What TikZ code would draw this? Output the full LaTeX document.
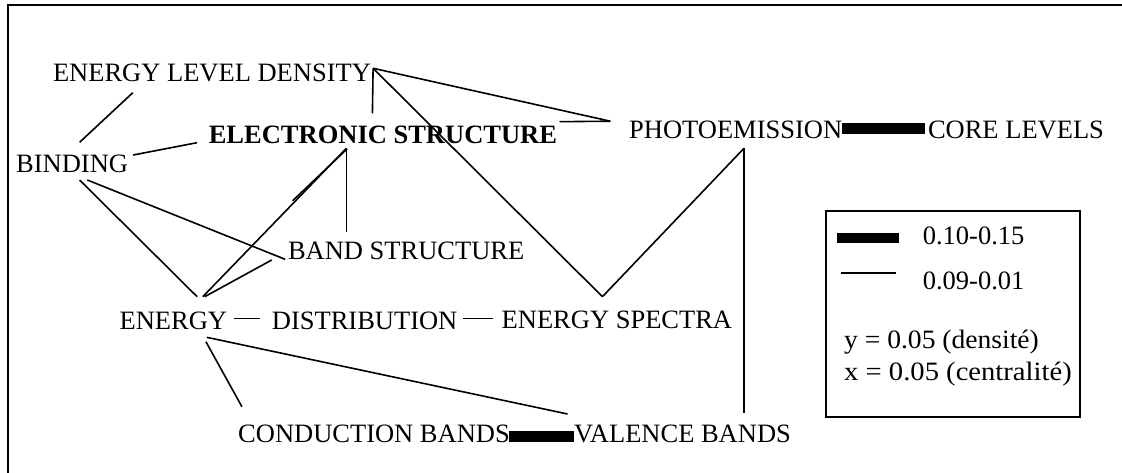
\documentclass[tikz,border=0pt]{standalone}
\usepackage{fontspec}
\setmainfont{Liberation Serif}
\begin{document}
\begin{tikzpicture}[x=1pt,y=-1pt,
  lbl/.style={anchor=base west,inner sep=0pt,font=\fontsize{26.5}{30}\selectfont},
  thin/.style={line width=1.6pt},
  thick/.style={line width=11pt},
  frame/.style={line width=2pt}]
\useasboundingbox (0,0) rectangle (1122,473);
\draw[frame] (7.7,473) -- (7.7,5) -- (1122,5);
% nodes
\node[lbl] (eld) at (52.8,81.7) {ENERGY LEVEL DENSITY};
\node[lbl,font=\fontsize{26.5}{30}\selectfont\bfseries] (es) at (208.6,143.3) {ELECTRONIC STRUCTURE};
\node[lbl] (bind) at (16,172.7) {BINDING};
\node[lbl] (band) at (287.8,260) {BAND STRUCTURE};
\node[lbl] (en) at (119.4,329.5) {ENERGY};
\node[lbl] (dist) at (271.7,329) {DISTRIBUTION};
\node[lbl] (spec) at (501.5,328) {ENERGY SPECTRA};
\node[lbl] (cond) at (238,442.3) {CONDUCTION BANDS};
\node[lbl] (val) at (574,442.5) {VALENCE BANDS};
\node[lbl] (pe) at (629,138.3) {PHOTOEMISSION};
\node[lbl] (core) at (927.8,138.3) {CORE LEVELS};
% attachment points
\coordinate (eld-apex) at (373.1,68.3);
\coordinate (eld-bl) at (132.8,92.7);
\coordinate (es-t) at (372.4,113.3);
\coordinate (es-r) at (559.5,121.7);
\coordinate (es-l) at (197,142.7);
\coordinate (es-b) at (346.4,148.3);
\coordinate (es-b2) at (347.2,148.8);
\coordinate (es-x) at (292.6,200.8);
\coordinate (pe-l) at (610.3,121.2);
\coordinate (pe-b) at (744,148.3);
\coordinate (pe-r) at (842,128.8);
\coordinate (core-l) at (925.4,128.8);
\coordinate (bind-t) at (79.6,142.3);
\coordinate (bind-r) at (133.2,155);
\coordinate (bind-b1) at (79.6,180);
\coordinate (bind-b2) at (87.3,180);
\coordinate (band-l) at (285.1,259.3);
\coordinate (band-bl) at (271.7,260);
\coordinate (band-t) at (346.4,231.7);
\coordinate (en-t1) at (197.1,296.7);
\coordinate (en-t2) at (202.8,296.7);
\coordinate (en-t3) at (204.7,296.7);
\coordinate (en-r) at (234,318.5);
\coordinate (en-b1) at (205.9,341.7);
\coordinate (en-b2) at (206.7,337.3);
\coordinate (dist-l) at (260,318.5);
\coordinate (dist-r) at (463.3,318.5);
\coordinate (spec-l) at (493.3,318.5);
\coordinate (spec-t) at (602.4,296.7);
\coordinate (cond-t) at (241.9,406.7);
\coordinate (cond-r) at (509,436);
\coordinate (val-l) at (574,436);
\coordinate (val-t1) at (567.5,414);
\coordinate (val-t2) at (744,413.3);
% connectors
\draw[thin] (eld-bl) -- (bind-t);
\draw[thin] (eld-apex) -- (es-t);
\draw[thin] (eld-apex) -- (pe-l);
\draw[thin] (es-r) -- (pe-l);
\draw[thin] (eld-apex) -- (spec-t);
\draw[thin] (bind-r) -- (es-l);
\draw[thin] (es-b) -- (band-t);
\draw[thin] (es-b) -- (en-t2);
\draw[thin] (es-b2) -- (es-x);
\draw[thin] (bind-b2) -- (band-l);
\draw[thin] (bind-b1) -- (en-t1);
\draw[thin] (band-bl) -- (en-t3);
\draw[thin] (en-r) -- (dist-l);
\draw[thin] (dist-r) -- (spec-l);
\draw[thin] (en-b1) -- (cond-t);
\draw[thin] (en-b2) -- (val-t1);
\draw[thick] (cond-r) -- (val-l);
\draw[thin] (pe-b) -- (spec-t);
\draw[thin] (pe-b) -- (val-t2);
\draw[thick] (pe-r) -- (core-l);
% legend
\node[draw,line width=2pt,inner sep=0pt,minimum width=254pt,minimum height=206pt,anchor=north west] (leg) at (825.4,210) {};
\coordinate (lg1a) at (837.3,238.3);
\coordinate (lg1b) at (898.8,238.3);
\coordinate (lg2a) at (840.5,272.7);
\coordinate (lg2b) at (895.6,272.7);
\draw[line width=10pt] (lg1a) -- (lg1b);
\draw[thin] (lg2a) -- (lg2b);
\node[lbl] (l1) at (922.6,245) {0.10-0.15};
\node[lbl] (l2) at (922.6,290) {0.09-0.01};
\node[lbl,xscale=1.04] (l3) at (844,348.3) {y = 0.05 (densité)};
\node[lbl,xscale=1.08] (l4) at (844,380) {x = 0.05 (centralité)};
\end{tikzpicture}
\end{document}
